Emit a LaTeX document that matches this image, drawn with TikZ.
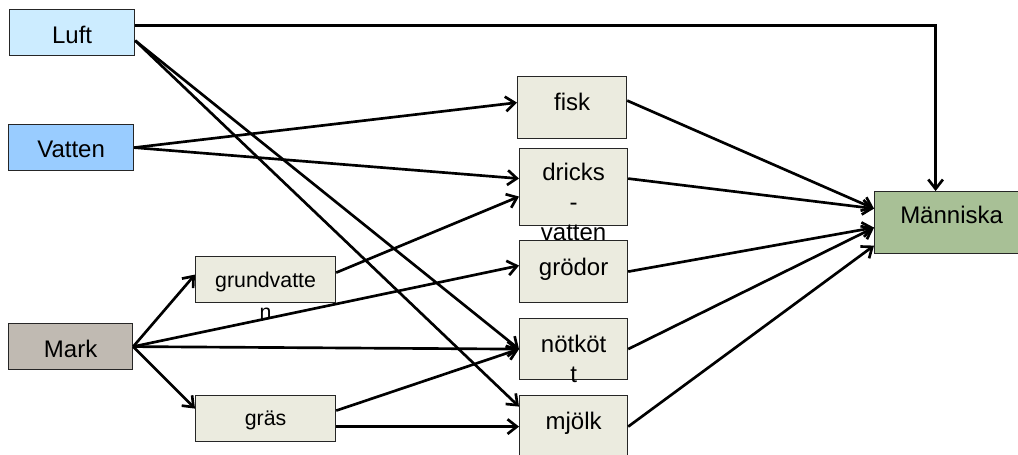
\documentclass[tikz,border=0pt]{standalone}
\usepackage{fontspec}
\setmainfont{Liberation Sans}
\usetikzlibrary{arrows.meta}
\definecolor{luftblue}{HTML}{CCECFF}
\definecolor{vattenblue}{HTML}{99CCFF}
\definecolor{markgray}{HTML}{C0BAB2}
\definecolor{cream}{HTML}{EBEBDF}
\definecolor{mangreen}{HTML}{A8C096}
\begin{document}
\begin{tikzpicture}[x=0.75pt,y=-0.75pt,
  box/.style={draw=black!85,line width=0.9pt,inner sep=0pt,anchor=north west,align=center,fill=cream,font=\fontsize{18}{22.5}\selectfont},
  smallbox/.style={box,font=\fontsize{16}{24}\selectfont},
  pil/.style={line width=2pt,-{Straight Barb[length=7pt,width=11pt]}}]
\useasboundingbox (0,0) rectangle (1018,454);
\node[box,fill=luftblue,text width=93.75pt,text height=25.5pt,text depth=9pt] (luft) at (9,9) {Luft};
\node[box,fill=vattenblue,text width=93.75pt,text height=24.75pt,text depth=9.75pt] (vatten) at (8,124) {Vatten};
\node[box,fill=markgray,text width=93pt,text height=25.5pt,text depth=9pt] (mark) at (8,323) {Mark};
\node[smallbox,text width=105pt,text height=23.25pt,text depth=11.25pt] (grundv) at (195,256) {grundvatte\\n};
\node[smallbox,text width=105pt,text height=22.5pt,text depth=12pt] (gras) at (195,395) {gräs};
\node[box,text width=81.75pt,text height=25.5pt,text depth=21pt] (fisk) at (517,76) {fisk};
\node[box,text width=81pt,text height=24pt,text depth=33.75pt] (dricks) at (519,148) {dricks\\-\\vatten};
\node[box,text width=81pt,text height=26.25pt,text depth=20.25pt] (grodor) at (519,240) {grödor};
\node[box,text width=81pt,text height=25.5pt,text depth=20.25pt] (notkott) at (519,318) {nötköt\\t};
\node[box,text width=81pt,text height=25.5pt,text depth=21pt] (mjolk) at (519,395) {mjölk};
\node[box,fill=mangreen,text width=115.5pt,text height=24pt,text depth=22.5pt] (manniska) at (874,191) {Människa};
\draw[pil] ([yshift=5.25pt]luft.east) -| ([xshift=-12pt]manniska.north);
\draw[pil] ([yshift=-6pt]luft.east) -- (notkott.west);
\draw[pil] ([yshift=-6pt]luft.east) -- ([yshift=15pt]mjolk.west);
\draw[pil] (vatten.east) -- ([yshift=3.75pt]fisk.west);
\draw[pil] (vatten.east) -- ([yshift=6.4pt]dricks.west);
\draw[pil] ([yshift=5.25pt]grundv.east) -- ([yshift=-7.1pt]dricks.west);
\draw[pil] (mark.east) -- ([yshift=3.75pt]grundv.west);
\draw[pil] (mark.east) -- ([yshift=4.5pt]grodor.west);
\draw[pil] (mark.east) -- (notkott.west);
\draw[pil] (mark.east) -- ([yshift=7.5pt]gras.west);
\draw[pil] ([yshift=6pt]gras.east) -- (notkott.west);
\draw[pil] ([yshift=-6pt]gras.east) -- (mjolk.west);
\draw[pil] ([yshift=5.25pt]fisk.east) -- ([yshift=10.5pt]manniska.west);
\draw[pil] ([yshift=6.4pt]dricks.east) -- ([yshift=10.5pt]manniska.west);
\draw[pil] (grodor.east) -- ([yshift=-3.75pt]manniska.west);
\draw[pil] (notkott.east) -- ([yshift=-3.75pt]manniska.west);
\draw[pil] (mjolk.east) -- ([yshift=-17.25pt]manniska.west);
\end{tikzpicture}
\end{document}
